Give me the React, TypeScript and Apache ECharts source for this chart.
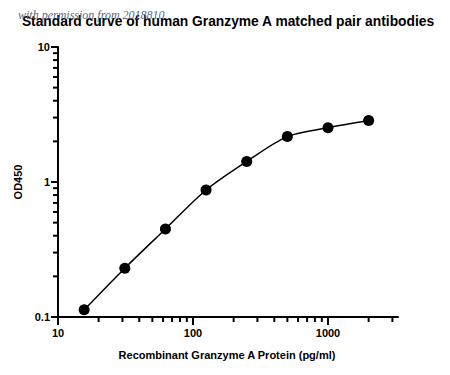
import React, { useEffect, useRef } from "react";
import * as echarts from "echarts";

const concentrations = [15.625, 31.25, 62.5, 125, 250, 500, 1000, 2000];
const od450 = [0.113, 0.23, 0.449, 0.873, 1.42, 2.17, 2.52, 2.85];
const xMajorTicks = [10, 100, 1000];
const xMinorTicks = [20, 30, 40, 50, 60, 70, 80, 90, 200, 300, 400, 500, 600, 700, 800, 900, 2000, 3000];
const yMajorTicks = [0.1, 1, 10];
const yMinorTicks = [0.2, 0.3, 0.4, 0.5, 0.6, 0.7, 0.8, 0.9, 2, 3, 4, 5, 6, 7, 8, 9];

const FONT = "'Liberation Sans', Arial, sans-serif";

export default function App() {
  const ref = useRef<HTMLDivElement>(null);
  useEffect(() => {
    document.body.style.margin = "0";
    if (!ref.current) return;
    const chart = echarts.init(ref.current, null, { renderer: "svg" });
    const xTickData = [
      ...xMajorTicks.map((v) => [v, 0.1, 8]),
      ...xMinorTicks.map((v) => [v, 0.1, 5]),
    ];
    const yTickData = [
      ...yMajorTicks.map((v) => [10, v, 7]),
      ...yMinorTicks.map((v) => [10, v, 5]),
    ];
    chart.setOption({
      animation: false,
      backgroundColor: "#fff",
      grid: { left: 58, top: 47, width: 340, height: 270, containLabel: false },
      xAxis: {
        type: "log",
        logBase: 10,
        min: 10,
        max: 3300,
        axisLine: { show: true, lineStyle: { color: "#000", width: 2 } },
        axisTick: { show: false },
        splitLine: { show: false },
        axisLabel: {
          margin: 10,
          color: "#000",
          fontFamily: FONT,
          fontWeight: "bold",
          fontSize: 11,
          formatter: (v: number) => {
            const r = Math.round(v);
            return xMajorTicks.includes(r) ? String(r) : "";
          },
        },
      },
      yAxis: {
        type: "log",
        logBase: 10,
        min: 0.1,
        max: 10,
        axisLine: { show: true, lineStyle: { color: "#000", width: 2 } },
        axisTick: { show: false },
        splitLine: { show: false },
        axisLabel: {
          margin: 8,
          color: "#000",
          fontFamily: FONT,
          fontWeight: "bold",
          fontSize: 11,
          formatter: (v: number) => {
            if (Math.abs(v - 0.1) < 1e-6) return "0.1";
            if (Math.abs(v - 1) < 1e-6) return "1";
            if (Math.abs(v - 10) < 1e-6) return "10";
            return "";
          },
        },
      },
      series: [
        {
          type: "line",
          data: concentrations.map((c, i) => [c, od450[i]]),
          smooth: 0.3,
          symbol: "circle",
          symbolSize: 11,
          itemStyle: { color: "#000" },
          lineStyle: { color: "#000", width: 1.5 },
          z: 5,
        },
        {
          type: "custom",
          clip: false,
          silent: true,
          data: xTickData,
          renderItem: (params: any, api: any) => {
            const p = api.coord([api.value(0), api.value(1)]);
            const len = api.value(2);
            return {
              type: "line",
              shape: { x1: p[0], y1: p[1], x2: p[0], y2: p[1] + len },
              style: { stroke: "#000", lineWidth: 2 },
            };
          },
        },
        {
          type: "custom",
          clip: false,
          silent: true,
          data: yTickData,
          renderItem: (params: any, api: any) => {
            const p = api.coord([api.value(0), api.value(1)]);
            const len = api.value(2);
            return {
              type: "line",
              shape: { x1: p[0], y1: p[1], x2: p[0] - len, y2: p[1] },
              style: { stroke: "#000", lineWidth: 2 },
            };
          },
        },
      ],
      graphic: [
        {
          type: "text",
          x: 228,
          y: 21,
          style: {
            text: "Standard curve of human Granzyme A matched pair antibodies",
            fontFamily: FONT,
            fontWeight: "bold",
            fontSize: 13.8,
            fill: "#000",
            align: "center",
            verticalAlign: "middle",
          },
          z: 10,
        },
        {
          type: "text",
          x: 18,
          y: 9,
          style: {
            text: "with permission from 2018810",
            fontFamily: "'Liberation Serif', serif",
            fontStyle: "italic",
            fontSize: 12,
            fill: "#5a6888",
          },
          z: 11,
        },
        {
          type: "text",
          x: 18,
          y: 182,
          rotation: Math.PI / 2,
          style: {
            text: "OD450",
            fontFamily: FONT,
            fontWeight: "bold",
            fontSize: 11,
            fill: "#000",
            align: "center",
            verticalAlign: "middle",
          },
        },
        {
          type: "text",
          x: 227,
          y: 355,
          style: {
            text: "Recombinant Granzyme A Protein (pg/ml)",
            fontFamily: FONT,
            fontWeight: "bold",
            fontSize: 11,
            fill: "#000",
            align: "center",
            verticalAlign: "middle",
          },
        },
      ],
    });
    return () => chart.dispose();
  }, []);
  return <div ref={ref} style={{ width: 450, height: 375 }} />;
}
